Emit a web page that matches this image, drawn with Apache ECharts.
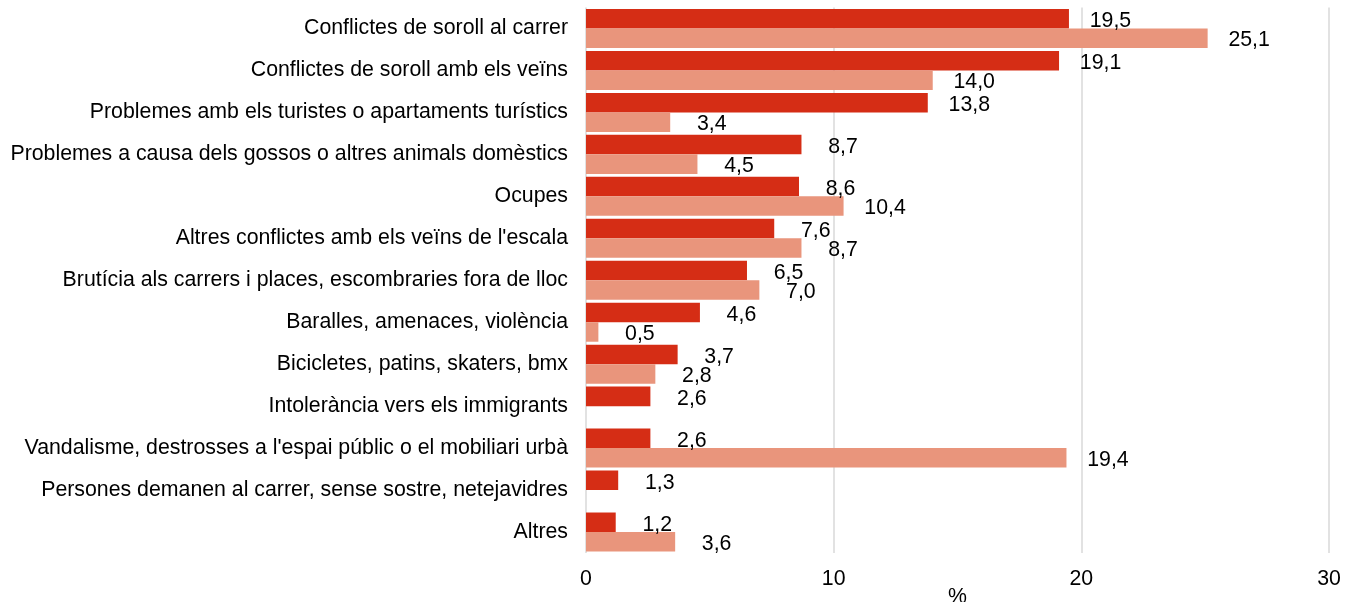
<!DOCTYPE html>
<html>
<head>
<meta charset="utf-8">
<script src="https://cdn.jsdelivr.net/npm/echarts@6/dist/echarts.min.js"></script>
<style>
  html, body { margin: 0; padding: 0; background: #ffffff; }
  #chart { width: 1345px; height: 602px; }
</style>
</head>
<body>
<div id="chart"></div>
<script>
// Categories, top to bottom
const categories = [
  "Conflictes de soroll al carrer",
  "Conflictes de soroll amb els veïns",
  "Problemes amb els turistes o apartaments turístics",
  "Problemes a causa dels gossos o altres animals domèstics",
  "Ocupes",
  "Altres conflictes amb els veïns de l'escala",
  "Brutícia als carrers i places, escombraries fora de lloc",
  "Baralles, amenaces, violència",
  "Bicicletes, patins, skaters, bmx",
  "Intolerància vers els immigrants",
  "Vandalisme, destrosses a l'espai públic o el mobiliari urbà",
  "Persones demanen al carrer, sense sostre, netejavidres",
  "Altres"
];

// Percentages, first series (dark bars)
const serie1 = [19.5, 19.1, 13.8, 8.7, 8.6, 7.6, 6.5, 4.6, 3.7, 2.6, 2.6, 1.3, 1.2];
// Percentages, second series (light bars); null = no bar
const serie2 = [25.1, 14.0, 3.4, 4.5, 10.4, 8.7, 7.0, 0.5, 2.8, null, 19.4, null, 3.6];

// Value axis ticks
const xTicks = [0, 10, 20, 30];

const FONT = "'Liberation Sans', Arial, sans-serif";
const FS = 21.3;
const fmt = v => v.toFixed(1).replace('.', ',');

const chart = echarts.init(document.getElementById('chart'), null, { renderer: 'canvas' });

// Value label: centred a fixed distance past the end of the bar
const labelStyle = (dy) => ({
  show: true,
  position: 'right',
  distance: 41.5,
  align: 'center',
  offset: [0, dy],
  color: '#000000',
  fontFamily: FONT,
  fontSize: FS,
  formatter: p => (p.value == null ? '' : fmt(p.value))
});

chart.setOption({
  animation: false,
  backgroundColor: '#ffffff',
  grid: {
    left: 586, right: 16, top: 7.5, bottom: 49,
    containLabel: false,
    outerBoundsMode: 'none'
  },
  xAxis: {
    type: 'value',
    min: xTicks[0],
    max: xTicks[xTicks.length - 1],
    interval: 10,
    name: '%',
    nameLocation: 'middle',
    nameGap: 34,
    nameMoveOverlap: false,
    nameTextStyle: { color: '#000000', fontFamily: FONT, fontSize: FS },
    axisLine: { show: false },
    axisTick: { show: false },
    axisLabel: {
      color: '#000000', fontFamily: FONT, fontSize: FS, margin: 16,
      formatter: v => String(v)
    },
    splitLine: { show: true, lineStyle: { color: '#d9d9d9', width: 1.5 } }
  },
  yAxis: {
    type: 'category',
    data: categories,
    inverse: true,
    axisLine: { show: false },
    axisTick: { show: false },
    axisLabel: {
      color: '#000000', fontFamily: FONT, fontSize: FS, margin: 18,
      padding: [4, 0, 0, 0]
    }
  },
  series: [
    {
      name: 'Sèrie 1',
      type: 'bar',
      data: serie1,
      barGap: '0%',
      barCategoryGap: '7%',
      itemStyle: { color: '#d52d15' },
      label: labelStyle(2.5)
    },
    {
      name: 'Sèrie 2',
      type: 'bar',
      data: serie2,
      barGap: '0%',
      barCategoryGap: '7%',
      itemStyle: { color: '#e9957c' },
      label: labelStyle(2)
    }
  ]
});
</script>
</body>
</html>
